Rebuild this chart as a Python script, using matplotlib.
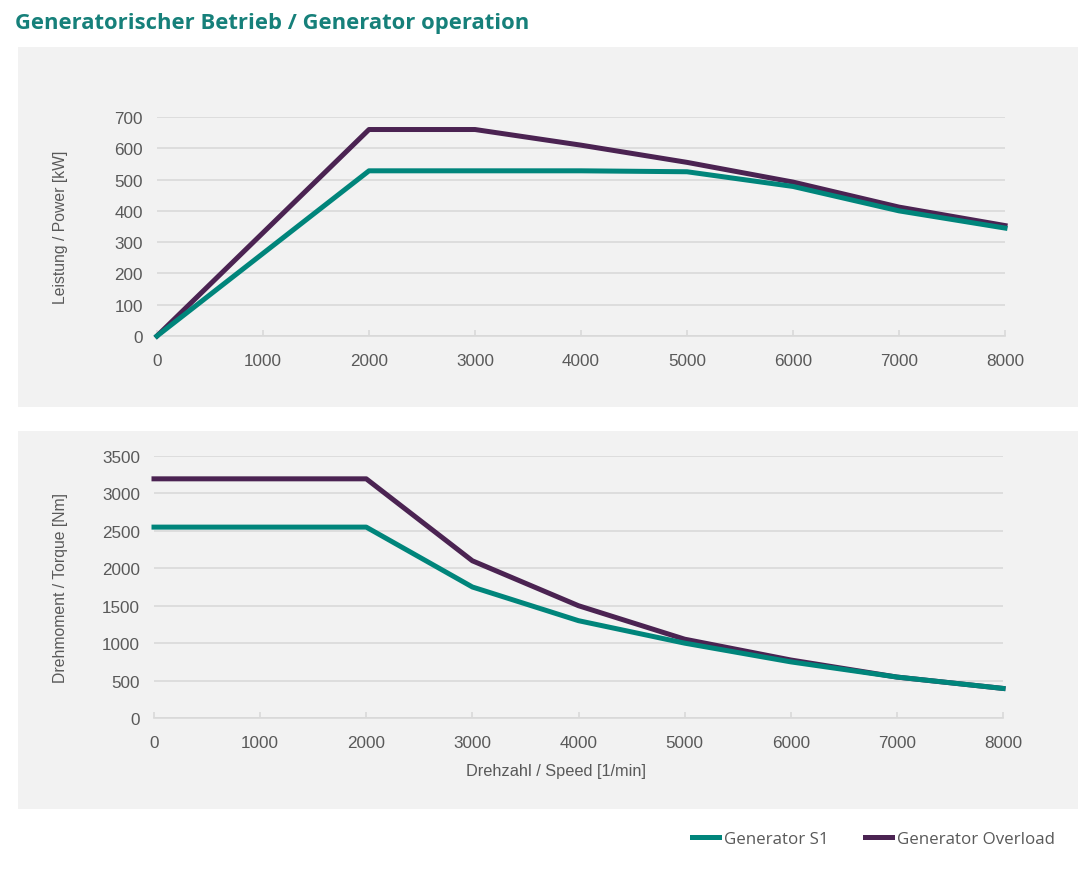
import matplotlib
matplotlib.use("Agg")
import matplotlib.pyplot as plt
from matplotlib.patches import Rectangle
from matplotlib.lines import Line2D

speed = [0, 2000, 3000, 4000, 5000, 6000, 7000, 8000]
power_s1 = [0, 528, 528, 528, 525, 478, 400, 345]
power_ol = [0, 660, 660, 610, 555, 492, 412, 353]
torque_s1 = [2550, 2550, 1750, 1300, 1000, 750, 547, 395]
torque_ol = [3195, 3195, 2100, 1500, 1053, 775, 547, 395]
x_ticks = [0, 1000, 2000, 3000, 4000, 5000, 6000, 7000, 8000]
power_ticks = [0, 100, 200, 300, 400, 500, 600, 700]
torque_ticks = [0, 500, 1000, 1500, 2000, 2500, 3000, 3500]

TEAL = "#00857b"
PURPLE = "#4b2352"
TXT = "#595959"
GRID = "#d9d9d9"
BG = "#f2f2f2"

W, H = 1079, 887
fig = plt.figure(figsize=(W / 100, H / 100), dpi=100)
fig.patch.set_facecolor("white")

def fx(px):
    return px / W

def fy(py):
    return 1 - py / H

# panel backgrounds
fig.add_artist(Rectangle((fx(18), fy(408)), fx(1078) - fx(18), fy(48) - fy(408),
                         transform=fig.transFigure, facecolor=BG, edgecolor="none", zorder=0))
fig.add_artist(Rectangle((fx(18), fy(810)), fx(1078) - fx(18), fy(432) - fy(810),
                         transform=fig.transFigure, facecolor=BG, edgecolor="none", zorder=0))

fig.text(fx(15), fy(23), "Generatorischer Betrieb / Generator operation",
         fontsize=15.8, fontweight="bold", color="#16807a", family="Open Sans",
         ha="left", va="center")

def style(ax, ticks, ymax):
    ax.set_facecolor("none")
    ax.set_xlim(0, 8000)
    ax.set_ylim(0, ymax)
    ax.set_xticks(x_ticks)
    ax.set_yticks(ticks)
    ax.set_xticklabels([str(t) for t in x_ticks])
    ax.set_yticklabels([str(t) for t in ticks])
    for s in ["top", "right", "left"]:
        ax.spines[s].set_visible(False)
    ax.spines["bottom"].set_color(GRID)
    ax.spines["bottom"].set_linewidth(1.2)
    ax.grid(axis="y", color=GRID, linewidth=1.2)
    ax.set_axisbelow(True)
    ax.tick_params(axis="y", length=0, pad=10, labelsize=12.3, labelcolor=TXT,
                   labelfontfamily="Liberation Sans")
    ax.tick_params(axis="x", direction="in", length=4, color=GRID, width=1.2,
                   pad=12.5, labelsize=12.3, labelcolor=TXT, labelfontfamily="Liberation Sans")

ax1 = fig.add_axes([fx(157), fy(337), fx(1005) - fx(157), fy(118) - fy(337)])
ax1.plot(speed, power_s1, color=TEAL, lw=3.6, solid_joinstyle="round", clip_on=False, zorder=3)
ax1.plot(speed, power_ol, color=PURPLE, lw=3.6, solid_joinstyle="round", clip_on=False, zorder=2)
style(ax1, power_ticks, 700)
ax1.set_ylabel("Leistung / Power [kW]", fontsize=11.3, color=TXT, family="Liberation Sans")
ax1.yaxis.set_label_coords((68 - 157) / 848, 0.5)

ax2 = fig.add_axes([fx(154), fy(719), fx(1003) - fx(154), fy(457) - fy(719)])
ax2.plot(speed, torque_s1, color=TEAL, lw=3.6, solid_joinstyle="round", clip_on=False, zorder=3)
ax2.plot(speed, torque_ol, color=PURPLE, lw=3.6, solid_joinstyle="round", clip_on=False, zorder=2)
style(ax2, torque_ticks, 3500)
ax2.set_ylabel("Drehmoment / Torque [Nm]", fontsize=11.3, color=TXT, family="Liberation Sans")
ax2.yaxis.set_label_coords((68 - 154) / 849, 0.5)
ax2.set_xlabel("Drehzahl / Speed [1/min]", fontsize=11.8, color=TXT, family="Liberation Sans")
ax2.xaxis.set_label_coords((556 - 154) / 849, (719 - 764) / 262)

handles = [Line2D([0], [0], color=TEAL, lw=3.6), Line2D([0], [0], color=PURPLE, lw=3.6)]
leg = fig.legend(handles, ["Generator S1", "Generator Overload"], loc="center right",
                 bbox_to_anchor=(fx(1070), fy(840)), ncol=2, frameon=False,
                 prop={"family": "Open Sans", "size": 12.2}, handlelength=1.6,
                 handletextpad=0.3, columnspacing=2.1, labelcolor=TXT)

fig.savefig("out.png", dpi=100, facecolor="white")
